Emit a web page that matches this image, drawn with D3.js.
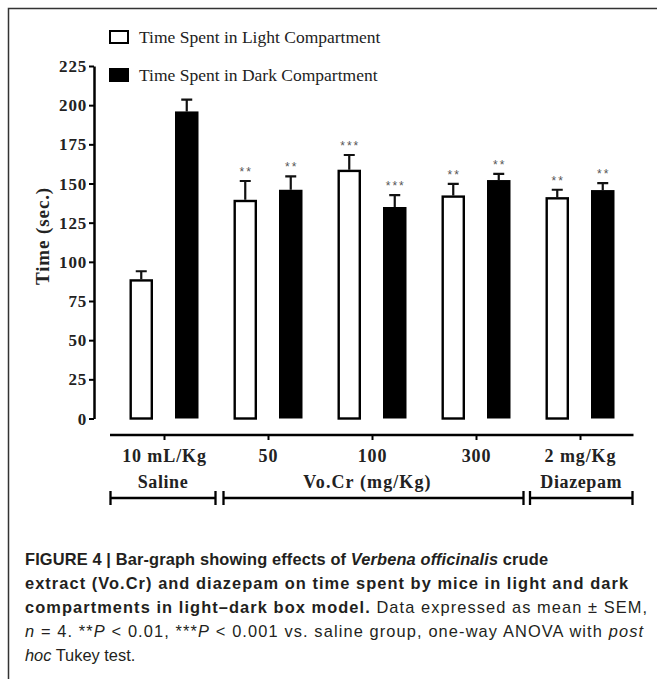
<!DOCTYPE html>
<html><head><meta charset="utf-8">
<script src="https://cdn.jsdelivr.net/npm/d3@7"></script>
<style>
html,body{margin:0;padding:0;background:#fff;}
svg{display:block;}
</style></head>
<body>
<svg id="chart" width="657" height="679"></svg>
<script>
// ---- data ----
const groups = ["10 mL/Kg", "50", "100", "300", "2 mg/Kg"];
const series = ["Time Spent in Light Compartment", "Time Spent in Dark Compartment"];
const lightMean = [88.9, 139.6, 158.8, 142.4, 141.3];
const lightErr  = [5.1, 12.0, 9.4, 7.4, 4.7];
const darkMean  = [196.0, 146.0, 135.0, 152.2, 145.8];
const darkErr   = [7.5, 8.5, 7.6, 4.0, 4.5];
const lightSig  = ["", "**", "***", "**", "**"];
const darkSig   = ["", "**", "***", "**", "**"];
const yTicks = [0, 25, 50, 75, 100, 125, 150, 175, 200, 225];
const brackets = [
  {label: "Saline", from: 0, to: 0},
  {label: "Vo.Cr (mg/Kg)", from: 1, to: 3},
  {label: "Diazepam", from: 4, to: 4}
];
const yTitle = "Time (sec.)";

const svg = d3.select("#chart");
const serif = "'Liberation Serif','Times New Roman',serif";
const sans = "'Liberation Sans',Arial,Helvetica,sans-serif";

// frame
svg.append("path").attr("d", "M8.5,679 L8.5,8.5 L657,8.5")
  .attr("fill", "none").attr("stroke", "#333").attr("stroke-width", 1.5);

// scales
const y = d3.scaleLinear().domain([0, 225]).range([418.5, 66]);
const x = d3.scalePoint().domain(groups).range([164, 580]);
const sub = d3.scaleBand().domain(series).range([-34.5, 34.5]).paddingInner(0.4835).paddingOuter(0);
const bw = sub.bandwidth();

// y axis
const yAxis = svg.append("g").attr("transform", "translate(94,0)")
  .call(d3.axisLeft(y).tickValues(yTicks).tickSize(5).tickSizeOuter(0).tickPadding(2));
yAxis.select(".domain").attr("stroke-width", 2.5);
yAxis.selectAll(".tick line").attr("stroke-width", 2);
yAxis.selectAll(".tick text").attr("font-family", serif).attr("font-weight", "bold")
  .attr("font-size", 17).attr("fill", "#222").attr("dy", "0.33em")
  .attr("x", -7).style("letter-spacing", "0.8px");

// y title
svg.append("text").attr("transform", "translate(49,236) rotate(-90)")
  .attr("text-anchor", "middle").attr("font-family", serif).attr("font-weight", "bold")
  .attr("font-size", 19).attr("fill", "#222").style("letter-spacing", "0.9px").text(yTitle);

// x axis
const xAxis = svg.append("g").attr("transform", "translate(0,435)")
  .call(d3.axisBottom(x).tickSize(5).tickSizeOuter(0).tickPadding(9));
xAxis.select(".domain").remove();
xAxis.insert("line", ":first-child").attr("x1", 110).attr("x2", 633.5).attr("y1", 0).attr("y2", 0)
  .attr("stroke", "#000").attr("stroke-width", 2.5);
xAxis.selectAll(".tick line").attr("stroke-width", 2);
xAxis.selectAll(".tick text").attr("font-family", serif).attr("font-weight", "bold")
  .attr("font-size", 18).attr("fill", "#222").style("letter-spacing", "0.9px");

// bars
const data = groups.map((g, i) => ({g,
  vals: [
    {s: series[0], v: lightMean[i], e: lightErr[i], sig: lightSig[i], dark: false},
    {s: series[1], v: darkMean[i], e: darkErr[i], sig: darkSig[i], dark: true}
  ]}));

const gg = svg.append("g").selectAll("g").data(data).join("g")
  .attr("transform", d => `translate(${x(d.g)},0)`);

gg.selectAll("path.err").data(d => d.vals).join("path").attr("class", "err")
  .attr("d", d => {
    const cx = sub(d.s) + bw / 2, top = y(d.v + d.e);
    return `M${cx},${y(d.v)} L${cx},${top} M${cx - 5.5},${top} L${cx + 5.5},${top}`;
  })
  .attr("stroke", "#111").attr("stroke-width", 2.2).attr("fill", "none");

gg.selectAll("rect").data(d => d.vals).join("rect")
  .attr("x", d => sub(d.s) + (d.dark ? 0 : 1.2))
  .attr("width", d => bw - (d.dark ? 0 : 2.4))
  .attr("y", d => y(d.v) + (d.dark ? 0 : 1.2))
  .attr("height", d => y(0) - y(d.v) - (d.dark ? 0 : 1.2))
  .attr("fill", d => d.dark ? "#000" : "#fff")
  .attr("stroke", "#000").attr("stroke-width", d => d.dark ? 0 : 2.4);

gg.selectAll("text.sig").data(d => d.vals.filter(v => v.sig)).join("text").attr("class", "sig")
  .attr("x", d => sub(d.s) + bw / 2 + 1).attr("y", d => y(d.v + d.e) - 5)
  .attr("text-anchor", "middle").attr("font-family", sans).attr("font-size", 12)
  .attr("fill", "#555").style("letter-spacing", "2px").text(d => d.sig);

// brackets
const bracketX = [[110.5, 215.5], [223.5, 523.5], [530, 632.5]];
const labelShift = [0, -6, 0];
const bg = svg.append("g");
brackets.forEach((b, i) => {
  const [x1, x2] = bracketX[i];
  const yy = 498;
  bg.append("path").attr("d", `M${x1},${yy - 7} L${x1},${yy + 7} M${x1},${yy} L${x2},${yy} M${x2},${yy - 7} L${x2},${yy + 7}`)
    .attr("stroke", "#000").attr("stroke-width", 2.3).attr("fill", "none");
  bg.append("text").attr("x", (x1 + x2) / 2 + labelShift[i]).attr("y", 488)
    .attr("text-anchor", "middle").attr("font-family", serif).attr("font-weight", "bold")
    .attr("font-size", 18).attr("fill", "#222").style("letter-spacing", i === 1 ? "1.1px" : "0.6px").text(b.label);
});

// legend
const lg = svg.append("g");
series.forEach((s, i) => {
  const yy = i === 0 ? 31 : 69;
  lg.append("rect").attr("x", 110).attr("y", yy).attr("width", 18).attr("height", 12)
    .attr("fill", i === 0 ? "#fff" : "#000").attr("stroke", "#000").attr("stroke-width", 2);
  lg.append("text").attr("x", 139).attr("y", yy + 12).attr("font-family", serif)
    .attr("font-size", 17.5).attr("fill", "#222").text(s);
});

// caption
const cap = svg.append("g").attr("font-family", sans).attr("font-size", 16.4).attr("fill", "#231f20");
const lines = [
  [["FIGURE 4 | Bar-graph showing effects of ", "b"], ["Verbena officinalis", "bi"], [" crude", "b"]],
  [["extract (Vo.Cr) and diazepam on time spent by mice in light and dark", "b"]],
  [["compartments in light\u2013dark box model.", "b"], [" Data expressed as mean \u00b1 SEM,", ""]],
  [["n", "i"], [" = 4. **", ""], ["P", "i"], [" < 0.01, ***", ""], ["P", "i"], [" < 0.001 vs. saline group, one-way ANOVA with ", ""], ["post", "i"]],
  [["hoc", "i"], [" Tukey test.", ""]]
];
const lineWidths = [523, 603, 622, 618, null];
lines.forEach((ln, i) => {
  const t = cap.append("text").attr("x", 25).attr("y", 565 + i * 24).attr("xml:space", "preserve");
  ln.forEach(([str, st]) => {
    t.append("tspan").attr("font-weight", st.includes("b") ? "bold" : "normal")
      .attr("font-style", st.includes("i") ? "italic" : "normal").text(str);
  });
  if (lineWidths[i]) t.attr("textLength", lineWidths[i]).attr("lengthAdjust", "spacing");
});
</script>
</body></html>
